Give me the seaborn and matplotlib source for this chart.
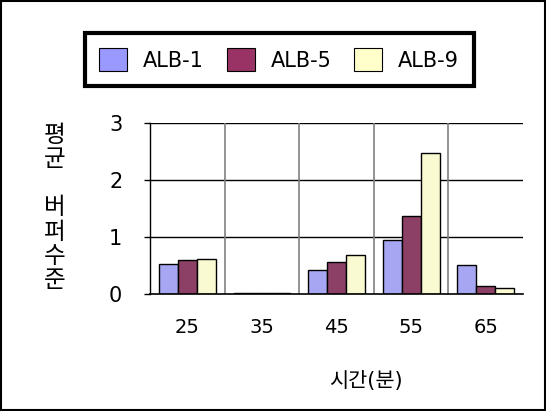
import numpy as np
import pandas as pd
import matplotlib
matplotlib.use("Agg")
import matplotlib.pyplot as plt
import seaborn as sns

# data
times = ["25", "35", "45", "55", "65"]
alb1 = [0.52, 0.01, 0.42, 0.95, 0.50]
alb5 = [0.60, 0.01, 0.56, 1.36, 0.14]
alb9 = [0.62, 0.01, 0.68, 2.47, 0.10]
series_names = ["ALB-1", "ALB-5", "ALB-9"]
colors = ["#9999FF", "#993366", "#FFFFCC"]

df = pd.DataFrame({
    "time": times * 3,
    "value": alb1 + alb5 + alb9,
    "series": [s for s in series_names for _ in times],
})

sns.set_style("white")
plt.rcParams["font.family"] = ["DejaVu Sans", "Noto Sans CJK KR"]
plt.rcParams["text.color"] = "black"
plt.rcParams["xtick.labelcolor"] = "black"
plt.rcParams["ytick.labelcolor"] = "black"

fig = plt.figure(figsize=(5.46, 4.11), dpi=100)
ax = fig.add_axes([0.275, 0.285, 0.683, 0.416])

sns.barplot(data=df, x="time", y="value", hue="series", palette=colors,
            width=0.76, edgecolor="black", linewidth=1.0, ax=ax,
            legend=False)

ax.set_ylim(0, 3)
ax.set_xlim(-0.5, 4.5)
ax.set_yticks([0, 1, 2, 3])
ax.set_yticklabels(["0", "1", "2", "3"])
ax.set_xlabel("")
ax.set_ylabel("")

# gridlines: black horizontals, grey verticals at category boundaries
for yv in [1, 2, 3]:
    ax.axhline(yv, color="black", lw=1.0, zorder=0)
for xv in [0.5, 1.5, 2.5, 3.5]:
    ax.axvline(xv, color="#808080", lw=1.2, zorder=0)

for s in ["top", "right"]:
    ax.spines[s].set_visible(False)
ax.spines["left"].set_color("black")
ax.spines["bottom"].set_color("black")
ax.spines["left"].set_linewidth(1.0)
ax.spines["bottom"].set_linewidth(1.2)

ax.tick_params(axis="y", which="major", left=True, length=4, width=1,
               color="black", labelcolor="black", pad=16, labelsize=15)
ax.tick_params(axis="x", bottom=False, pad=14, labelsize=14, labelcolor="black")

# stacked vertical y label
fig.text(0.100, 0.494, "평\n균\n\n버\n퍼\n수\n준", ha="center", va="center",
         fontsize=17, linespacing=1.07, family="Noto Sans CJK KR", color="black")
fig.text(0.670, 0.072, "시간(분)", ha="center", va="center", fontsize=15, color="black")

# legend box at the top
handles = [plt.Rectangle((0, 0), 1, 1, facecolor=c, edgecolor="black", lw=0.8)
           for c in colors]
leg = fig.legend(handles, series_names, loc="center", bbox_to_anchor=(0.511, 0.855),
                 ncol=3, frameon=True, fancybox=False, fontsize=15, framealpha=1,
                 handlelength=1.35, handleheight=1.35, handletextpad=0.75,
                 columnspacing=1.1, borderpad=0.7, borderaxespad=0,
                 labelcolor="black")
leg.get_frame().set_edgecolor("black")
leg.get_frame().set_linewidth(3)

# outer figure border
fig.patches.append(plt.Rectangle((0.002, 0.002), 0.996, 0.996, transform=fig.transFigure,
                                 fill=False, edgecolor="black", lw=1.5))

fig.savefig("out.png", dpi=100)
